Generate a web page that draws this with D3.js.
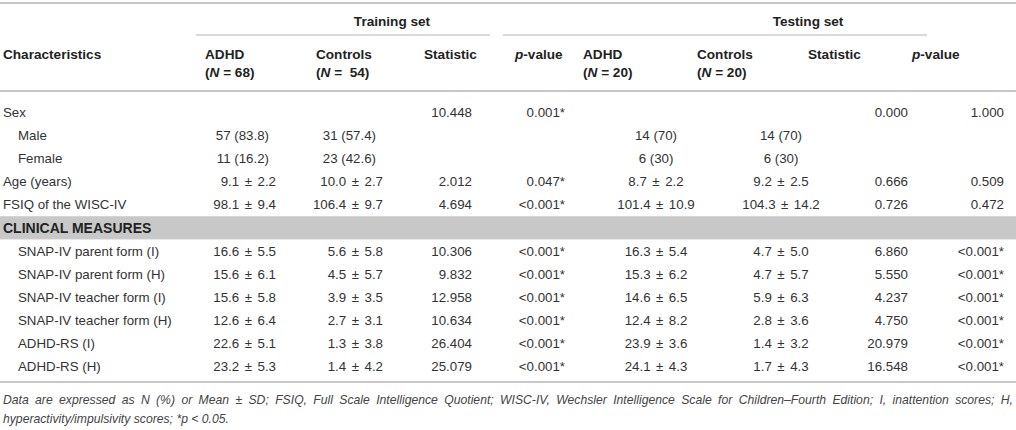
<!DOCTYPE html>
<html>
<head>
<meta charset="utf-8">
<script src="https://cdn.jsdelivr.net/npm/d3@7"></script>
<style>
  body { margin: 0; background: #fff; }
  svg text { font-family: "Liberation Sans", Arial, Helvetica, sans-serif; fill: #333; }
  svg text.hd { font-weight: bold; fill: #222; }
</style>
</head>
<body>
<svg id="chart" width="1016" height="430"></svg>
<script>
// ─────────────────────────────────────────────
// Demographic / clinical table, training vs testing set.
// Rows on a band scale, columns on an ordinal scale.
// ─────────────────────────────────────────────

const rowLabels = [
  "Sex", "Male", "Female", "Age (years)", "FSIQ of the WISC-IV",
  "CLINICAL MEASURES",
  "SNAP-IV parent form (I)", "SNAP-IV parent form (H)",
  "SNAP-IV teacher form (I)", "SNAP-IV teacher form (H)",
  "ADHD-RS (I)", "ADHD-RS (H)"
];
const rowIndent = [0, 1, 1, 0, 0, 0, 1, 1, 1, 1, 1, 1];
const sectionRows = [5];

const trainAdhd = ["", "57 (83.8)", "11 (16.2)", "9.1 ± 2.2", "98.1 ± 9.4", "",
  "16.6 ± 5.5", "15.6 ± 6.1", "15.6 ± 5.8", "12.6 ± 6.4", "22.6 ± 5.1", "23.2 ± 5.3"];
const trainCtrl = ["", "31 (57.4)", "23 (42.6)", "10.0 ± 2.7", "106.4 ± 9.7", "",
  "5.6 ± 5.8", "4.5 ± 5.7", "3.9 ± 3.5", "2.7 ± 3.1", "1.3 ± 3.8", "1.4 ± 4.2"];
const trainStat = ["10.448", "", "", "2.012", "4.694", "",
  "10.306", "9.832", "12.958", "10.634", "26.404", "25.079"];
const trainP = ["0.001*", "", "", "0.047*", "<0.001*", "",
  "<0.001*", "<0.001*", "<0.001*", "<0.001*", "<0.001*", "<0.001*"];
const testAdhd = ["", "14 (70)", "6 (30)", "8.7 ± 2.2", "101.4 ± 10.9", "",
  "16.3 ± 5.4", "15.3 ± 6.2", "14.6 ± 6.5", "12.4 ± 8.2", "23.9 ± 3.6", "24.1 ± 4.3"];
const testCtrl = ["", "14 (70)", "6 (30)", "9.2 ± 2.5", "104.3 ± 14.2", "",
  "4.7 ± 5.0", "4.7 ± 5.7", "5.9 ± 6.3", "2.8 ± 3.6", "1.4 ± 3.2", "1.7 ± 4.3"];
const testStat = ["0.000", "", "", "0.666", "0.726", "",
  "6.860", "5.550", "4.237", "4.750", "20.979", "16.548"];
const testP = ["1.000", "", "", "0.509", "0.472", "",
  "<0.001*", "<0.001*", "<0.001*", "<0.001*", "<0.001*", "<0.001*"];

const groupLabels = ["Training set", "Testing set"];
const footnote = [
  "Data are expressed as N (%) or Mean ± SD; FSIQ, Full Scale Intelligence Quotient; WISC-IV, Wechsler Intelligence Scale for Children–Fourth Edition; I, inattention scores; H,",
  "hyperactivity/impulsivity scores; *p < 0.05."
];

const W = 1016;
const FS = 13.3;
const svg = d3.select("#chart");

const colKeys = ["trainAdhd", "trainCtrl", "trainStat", "trainP", "testAdhd", "testCtrl", "testStat", "testP"];
const colData = [trainAdhd, trainCtrl, trainStat, trainP, testAdhd, testCtrl, testStat, testP];
// value anchor per column; the two training group columns are right-set
const colX = d3.scaleOrdinal().domain(colKeys).range([276, 383, 472, 565, 656, 781, 908, 1004]);
const colAnchor = d3.scaleOrdinal().domain(colKeys)
  .range(["end", "end", "end", "end", "middle", "middle", "end", "end"]);
// header label left edge per column
const headX = d3.scaleOrdinal().domain(colKeys).range([205, 316, 424, 515, 583, 697, 808, 912]);

const y = d3.scaleBand().domain(d3.range(rowLabels.length)).range([100.4, 378.4]).padding(0);
const yc = (i) => y(i) + y.bandwidth() / 2;

// rules
const rule = (x1, x2, yy, w) => svg.append("line")
  .attr("x1", x1).attr("x2", x2).attr("y1", yy).attr("y2", yy)
  .attr("stroke", "#b4b4b4").attr("stroke-width", w);
rule(0, W, 3, 1.5);
rule(196, 490, 35, 1);
rule(503, 927, 35, 1);
rule(0, W, 91, 1.5);
rule(0, W, 382, 1.5);

// section band
svg.selectAll("rect.band")
  .data(sectionRows)
  .join("rect")
  .attr("class", "band")
  .attr("x", 0).attr("width", W)
  .attr("y", (i) => y(i)).attr("height", y.bandwidth())
  .attr("fill", "#c8c8c8");

// group headers
svg.selectAll("text.grp")
  .data(groupLabels)
  .join("text")
  .attr("class", "hd grp")
  .attr("x", (d, i) => [392, 808][i])
  .attr("y", 21).attr("dy", "0.35em")
  .attr("text-anchor", "middle")
  .style("font-size", "13.6px")
  .text((d) => d);

// column headers
function hdText(x, yy) {
  return svg.append("text").attr("class", "hd").attr("x", x).attr("y", yy)
    .attr("dy", "0.35em").style("font-size", "13.6px");
}
hdText(3, 54).text("Characteristics");
const nLabel = { trainAdhd: "68", trainCtrl: "\u00a054", testAdhd: "20", testCtrl: "20" };
colKeys.forEach((k) => {
  if (k.endsWith("Adhd") || k.endsWith("Ctrl")) {
    hdText(headX(k), 54).text(k.endsWith("Adhd") ? "ADHD" : "Controls");
    const t = hdText(headX(k), 72);
    t.append("tspan").text("(");
    t.append("tspan").style("font-style", "italic").text("N");
    t.append("tspan").text(" = " + nLabel[k] + ")");
  } else if (k.endsWith("Stat")) {
    hdText(headX(k), 54).text("Statistic");
  } else {
    const t = hdText(headX(k), 54);
    t.append("tspan").style("font-style", "italic").text("p");
    t.append("tspan").text("-value");
  }
});

// row labels
svg.selectAll("text.rowlab")
  .data(rowLabels)
  .join("text")
  .attr("class", (d, i) => sectionRows.includes(i) ? "rowlab hd" : "rowlab")
  .attr("x", (d, i) => 3 + rowIndent[i] * 15)
  .attr("y", (d, i) => yc(i)).attr("dy", "0.35em")
  .style("font-size", (d, i) => (sectionRows.includes(i) ? 14 : FS) + "px")
  .text((d) => d);

// mean ± sd gets the wider spacing seen round the ± sign
function fillValue(sel) {
  sel.each(function (d) {
    const t = d3.select(this);
    const parts = d.v.split(" ± ");
    if (parts.length < 2) { t.text(d.v); return; }
    t.append("tspan").text(parts[0]);
    t.append("tspan").attr("dx", 5.5).text("±");
    t.append("tspan").attr("dx", 5.5).text(parts[1]);
  });
}

// cells
colKeys.forEach((k, ci) => {
  const isPct = (d) => d.includes("(");
  svg.selectAll("text.c-" + k)
    .data(colData[ci].map((v, i) => ({ v, i })).filter((d) => d.v !== ""))
    .join("text")
    .attr("class", "c-" + k)
    .attr("x", (d) => colX(k) - (colAnchor(k) === "end" && isPct(d.v) && ci < 2 ? 7 : 0))
    .attr("y", (d) => yc(d.i)).attr("dy", "0.35em")
    .attr("text-anchor", colAnchor(k))
    .style("font-size", FS + "px")
    .call(fillValue);
});

// footnote, first line justified word by word
const fnSize = 12.2;
const fnY = [400, 418.5];
footnote.forEach((line, li) => {
  const g = svg.append("g");
  const words = line.split(" ");
  const nodes = words.map((w) => g.append("text")
    .attr("y", fnY[li]).attr("dy", "0.35em")
    .style("font-size", fnSize + "px").style("font-style", "italic").style("fill", "#444")
    .text(w));
  const widths = nodes.map((n) => n.node().getComputedTextLength());
  const space = fnSize * 0.278;
  const gap = li === 0 ? (W - 6 - d3.sum(widths)) / (words.length - 1) : space;
  let x = 3;
  nodes.forEach((n, i) => { n.attr("x", x); x += widths[i] + gap; });
});
</script>
</body>
</html>
